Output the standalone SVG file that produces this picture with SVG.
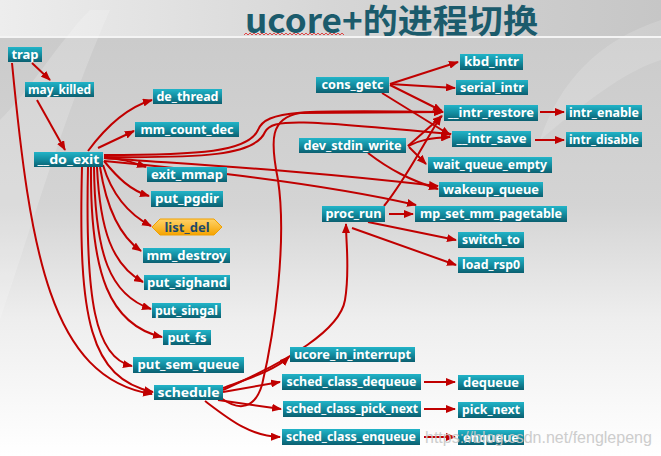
<svg xmlns="http://www.w3.org/2000/svg" width="661" height="456" viewBox="0 0 661 456">
<defs>
<linearGradient id="bg" x1="0" y1="0" x2="0" y2="1">
<stop offset="0" stop-color="#c9c9c9"/>
<stop offset="0.45" stop-color="#d4d4d4"/>
<stop offset="0.7" stop-color="#eeeeee"/>
<stop offset="1" stop-color="#ffffff"/>
</linearGradient>
<linearGradient id="top" x1="0" y1="0" x2="1" y2="0">
<stop offset="0" stop-color="#ededed"/>
<stop offset="0.5" stop-color="#d6d6d6"/>
<stop offset="1" stop-color="#c6c6c6"/>
</linearGradient>
<linearGradient id="box" x1="0" y1="0" x2="0" y2="1">
<stop offset="0" stop-color="#22b4c8"/>
<stop offset="0.5" stop-color="#138da0"/>
<stop offset="1" stop-color="#0b5f70"/>
</linearGradient>
<linearGradient id="orange" x1="0" y1="0" x2="0" y2="1">
<stop offset="0" stop-color="#ffd36a"/>
<stop offset="1" stop-color="#f5a300"/>
</linearGradient>
<marker id="ah" viewBox="0 0 10 8" refX="9" refY="4" markerWidth="10" markerHeight="8" markerUnits="userSpaceOnUse" orient="auto">
<path d="M0,0 L10,4 L0,8 Z" fill="#c00000"/>
</marker>
</defs>
<style>
.b{fill:url(#box)}
.t{font-family:"Noto Sans","DejaVu Sans",sans-serif;font-size:13px;font-weight:bold;fill:#ffffff;text-anchor:middle}
.c path{fill:none;stroke:#c00000;stroke-width:2;marker-end:url(#ah)}
</style>
<rect x="0" y="0" width="661" height="456" fill="url(#bg)"/>
<rect x="0" y="0" width="661" height="37" fill="url(#top)"/>
<path d="M0,37 L661,37" stroke="#f4f4f4" stroke-width="2"/>
<path d="M90,10 C60,40 30,90 0,120 L0,320 C40,200 70,100 110,10 Z" fill="#ffffff" opacity="0.18"/>
<path d="M661,20 C600,40 560,80 540,140 C600,90 630,70 661,60 Z" fill="#ffffff" opacity="0.15"/>
<g id="title">
<text x="245" y="33" textLength="293" lengthAdjust="spacingAndGlyphs" font-family="'Noto Sans CJK SC','Noto Sans',sans-serif" font-size="33" font-weight="bold" fill="#1b5b6c">ucore+的进程切换</text>
<path d="M244,35 l2,-2 l2,2 l2,-2 l2,2 l2,-2 l2,2 l2,-2 l2,2 l2,-2 l2,2 l2,-2 l2,2 l2,-2 l2,2 l2,-2 l2,2 l2,-2 l2,2 l2,-2 l2,2 l2,-2 l2,2 l2,-2 l2,2 l2,-2 l2,2 l2,-2 l2,2 l2,-2 l2,2 l2,-2 l2,2 l2,-2 l2,2 l2,-2 l2,2 l2,-2 l2,2 l2,-2 l2,2 l2,-2 l2,2 l2,-2 l2,2 l2,-2 l2,2 l2,-2 l2,2 l2,-2 l2,2" fill="none" stroke="#e02020" stroke-width="0.8"/>
</g>
<g class="c" id="connectors">
<path d="M32,63 L50,80"/>
<path d="M12,63 C30,250 50,378 152,394"/>
<path d="M37,100 L65,150"/>
<path d="M88,151 C105,128 125,108 152,100"/>
<path d="M98,148 L134,131"/>
<path d="M104,158 C120,158 132,162 146,167"/>
<path d="M104,161 C118,178 130,190 149,196"/>
<path d="M103,165 C112,195 130,215 151,226"/>
<path d="M100,167 C106,205 118,235 141,251"/>
<path d="M97,167 C100,230 112,265 143,282"/>
<path d="M94,167 C95,255 110,295 151,309"/>
<path d="M91,167 C90,275 110,325 162,337"/>
<path d="M88,167 C85,300 95,358 132,366"/>
<path d="M82,167 C78,320 90,378 153,392"/>
<path d="M104,155 C200,155 248,152 258,130 C266,110 300,110 443,112"/>
<path d="M104,157 C200,158 255,156 265,132 C272,118 300,120 451,134"/>
<path d="M104,158 C200,165 300,170 438,186"/>
<path d="M104,161 C200,170 330,185 416,205"/>
<path d="M390,84 L458,62"/>
<path d="M390,84 L455,88"/>
<path d="M390,85 L442,111"/>
<path d="M382,93 L450,135"/>
<path d="M408,146 L442,116"/>
<path d="M408,146 C420,140 430,138 450,137"/>
<path d="M409,147 C415,153 420,158 426,164"/>
<path d="M368,153 C390,170 410,180 438,189"/>
<path d="M540,112 L564,112"/>
<path d="M535,140 L564,140"/>
<path d="M389,214 L413,214"/>
<path d="M368,222 L456,240"/>
<path d="M352,228 L456,265"/>
<path d="M384,206 C405,180 420,150 441,116"/>
<path d="M223,388 C250,378 275,370 289,357"/>
<path d="M223,392 L280,382"/>
<path d="M218,400 L281,409"/>
<path d="M205,401 C230,420 250,436 280,437"/>
<path d="M223,390 C290,360 340,330 345,300 C350,270 346,245 346,224"/>
<path d="M221,398 C240,412 255,408 262,385 C275,330 287,240 278,180 C270,140 270,118 300,113 L443,112"/>
<path d="M424,382 L455,382"/>
<path d="M424,409 L455,409"/>
<path d="M424,437 L455,437"/>
</g>
<g id="n-trap"><rect class="b" x="8" y="47" width="34" height="15"/><text class="t" x="25" y="59">trap</text></g>
<g id="n-may_killed"><rect class="b" x="25" y="82" width="69" height="15"/><text class="t" x="59.5" y="94" textLength="63" lengthAdjust="spacingAndGlyphs">may_killed</text></g>
<g id="n-de_thread"><rect class="b" x="153" y="89" width="69" height="15"/><text class="t" x="187.5" y="101" textLength="62" lengthAdjust="spacingAndGlyphs">de_thread</text></g>
<g id="n-mm_count_dec"><rect class="b" x="135" y="122" width="104" height="15"/><text class="t" x="187" y="134" textLength="93" lengthAdjust="spacingAndGlyphs">mm_count_dec</text></g>
<g id="n-do_exit"><rect class="b" x="34" y="152" width="69" height="15"/><text class="t" x="68.5" y="164" textLength="62" lengthAdjust="spacingAndGlyphs">__do_exit</text></g>
<g id="n-exit_mmap"><rect class="b" x="147" y="167" width="80" height="15"/><text class="t" x="187" y="179" textLength="72" lengthAdjust="spacingAndGlyphs">exit_mmap</text></g>
<g id="n-put_pgdir"><rect class="b" x="151" y="191" width="72" height="16"/><text class="t" x="187" y="203" textLength="64" lengthAdjust="spacingAndGlyphs">put_pgdir</text></g>
<g id="n-list_del"><path d="M160,219 L214,219 L222,227 L214,235 L160,235 L152,227 Z" fill="url(#orange)" stroke="#f0a000" stroke-width="1"/><text class="t" x="187" y="232" style="fill:#1d4a6a">list_del</text></g>
<g id="n-mm_destroy"><rect class="b" x="143" y="248" width="87" height="15"/><text class="t" x="186.5" y="260" textLength="80" lengthAdjust="spacingAndGlyphs">mm_destroy</text></g>
<g id="n-put_sighand"><rect class="b" x="144" y="275" width="86" height="15"/><text class="t" x="187" y="287" textLength="80" lengthAdjust="spacingAndGlyphs">put_sighand</text></g>
<g id="n-put_singal"><rect class="b" x="152" y="303" width="69" height="15"/><text class="t" x="186.5" y="315" textLength="63" lengthAdjust="spacingAndGlyphs">put_singal</text></g>
<g id="n-put_fs"><rect class="b" x="163" y="330" width="48" height="15"/><text class="t" x="187" y="342">put_fs</text></g>
<g id="n-put_sem_queue"><rect class="b" x="133" y="357" width="111" height="16"/><text class="t" x="188.5" y="369" textLength="102" lengthAdjust="spacingAndGlyphs">put_sem_queue</text></g>
<g id="n-schedule"><rect class="b" x="154" y="385" width="69" height="15"/><text class="t" x="188.5" y="397" textLength="62" lengthAdjust="spacingAndGlyphs">schedule</text></g>
<g id="n-ucore_in_interrupt"><rect class="b" x="290" y="347" width="125" height="15"/><text class="t" x="352.5" y="359" textLength="117" lengthAdjust="spacingAndGlyphs">ucore_in_interrupt</text></g>
<g id="n-sched_class_dequeue"><rect class="b" x="282" y="374" width="139" height="16"/><text class="t" x="351.5" y="386" textLength="130" lengthAdjust="spacingAndGlyphs">sched_class_dequeue</text></g>
<g id="n-sched_class_pick_next"><rect class="b" x="283" y="401" width="138" height="16"/><text class="t" x="352" y="413" textLength="132" lengthAdjust="spacingAndGlyphs">sched_class_pick_next</text></g>
<g id="n-sched_class_enqueue"><rect class="b" x="282" y="429" width="138" height="16"/><text class="t" x="351" y="441" textLength="130" lengthAdjust="spacingAndGlyphs">sched_class_enqueue</text></g>
<g id="n-dequeue"><rect class="b" x="458" y="375" width="66" height="15"/><text class="t" x="491" y="387" textLength="56" lengthAdjust="spacingAndGlyphs">dequeue</text></g>
<g id="n-pick_next"><rect class="b" x="458" y="402" width="66" height="16"/><text class="t" x="491" y="414" textLength="58" lengthAdjust="spacingAndGlyphs">pick_next</text></g>
<g id="n-enqueue"><rect class="b" x="458" y="430" width="66" height="15"/><text class="t" x="491" y="442" textLength="56" lengthAdjust="spacingAndGlyphs">enqueue</text></g>
<g id="n-kbd_intr"><rect class="b" x="460" y="54" width="63" height="16"/><text class="t" x="491.5" y="66" textLength="55" lengthAdjust="spacingAndGlyphs">kbd_intr</text></g>
<g id="n-cons_getc"><rect class="b" x="316" y="77" width="73" height="16"/><text class="t" x="352.5" y="89" textLength="62" lengthAdjust="spacingAndGlyphs">cons_getc</text></g>
<g id="n-serial_intr"><rect class="b" x="456" y="80" width="72" height="15"/><text class="t" x="492" y="92" textLength="64" lengthAdjust="spacingAndGlyphs">serial_intr</text></g>
<g id="n-intr_restore"><rect class="b" x="444" y="105" width="94" height="16"/><text class="t" x="491" y="117" textLength="86" lengthAdjust="spacingAndGlyphs">__intr_restore</text></g>
<g id="n-intr_enable"><rect class="b" x="566" y="105" width="76" height="15"/><text class="t" x="604" y="117" textLength="70" lengthAdjust="spacingAndGlyphs">intr_enable</text></g>
<g id="n-intr_save"><rect class="b" x="452" y="131" width="79" height="16"/><text class="t" x="491.5" y="143" textLength="70" lengthAdjust="spacingAndGlyphs">__intr_save</text></g>
<g id="n-intr_disable"><rect class="b" x="566" y="132" width="76" height="15"/><text class="t" x="604" y="144" textLength="70" lengthAdjust="spacingAndGlyphs">intr_disable</text></g>
<g id="n-dev_stdin_write"><rect class="b" x="299" y="138" width="107" height="15"/><text class="t" x="352.5" y="150" textLength="98" lengthAdjust="spacingAndGlyphs">dev_stdin_write</text></g>
<g id="n-wait_queue_empty"><rect class="b" x="428" y="157" width="124" height="16"/><text class="t" x="490" y="169" textLength="114" lengthAdjust="spacingAndGlyphs">wait_queue_empty</text></g>
<g id="n-wakeup_queue"><rect class="b" x="439" y="182" width="104" height="15"/><text class="t" x="491" y="194" textLength="96" lengthAdjust="spacingAndGlyphs">wakeup_queue</text></g>
<g id="n-proc_run"><rect class="b" x="322" y="206" width="63" height="16"/><text class="t" x="353.5" y="218" textLength="56" lengthAdjust="spacingAndGlyphs">proc_run</text></g>
<g id="n-mp_set_mm_pagetable"><rect class="b" x="415" y="206" width="152" height="16"/><text class="t" x="491" y="218" textLength="142" lengthAdjust="spacingAndGlyphs">mp_set_mm_pagetable</text></g>
<g id="n-switch_to"><rect class="b" x="458" y="232" width="66" height="16"/><text class="t" x="491" y="244" textLength="58" lengthAdjust="spacingAndGlyphs">switch_to</text></g>
<g id="n-load_rsp0"><rect class="b" x="458" y="257" width="66" height="16"/><text class="t" x="491" y="269" textLength="58" lengthAdjust="spacingAndGlyphs">load_rsp0</text></g>
<text x="425" y="443" font-family="'Liberation Sans',Arial,sans-serif" font-size="16" fill="#c8c8c8" opacity="0.9">https://blog.csdn.net/fenglepeng</text>
</svg>
